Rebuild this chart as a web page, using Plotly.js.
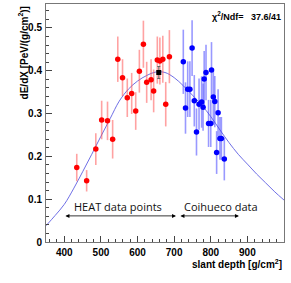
<!DOCTYPE html>
<html>
<head>
<meta charset="utf-8">
<script src="https://cdn.plot.ly/plotly-3.0.1.min.js"></script>
<style>html,body{margin:0;padding:0;background:#fff;}#chart{width:291px;height:283px;}</style>
</head>
<body>
<div id="chart"></div>
<script>
// HEAT data points (red)
var heatX   = [434, 461, 486, 502, 518, 532, 546, 559, 572, 584, 595, 605, 616, 625, 637, 644, 654, 661, 669, 677, 687];
var heatY   = [0.174, 0.143, 0.217, 0.285, 0.283, 0.240, 0.427, 0.384, 0.337, 0.347, 0.306, 0.399, 0.462, 0.373, 0.379, 0.353, 0.425, 0.423, 0.427, 0.322, 0.433];
var heatErr = [0.032, 0.025, 0.037, 0.045, 0.045, 0.045, 0.053, 0.043, 0.045, 0.048, 0.044, 0.050, 0.055, 0.048, 0.048, 0.050, 0.055, 0.055, 0.055, 0.052, 0.062];

// Coihueco data points (blue)
var coiX   = [725, 731, 737, 743, 749, 755, 761, 768, 775, 779, 782, 787, 794, 800, 802, 807, 811, 816, 820, 825, 829, 837];
var coiY   = [0.421, 0.313, 0.357, 0.357, 0.453, 0.330, 0.257, 0.322, 0.327, 0.315, 0.381, 0.396, 0.277, 0.277, 0.402, 0.339, 0.328, 0.209, 0.302, 0.242, 0.242, 0.194];
var coiErr = [0.075, 0.060, 0.065, 0.065, 0.065, 0.060, 0.055, 0.060, 0.060, 0.055, 0.065, 0.065, 0.055, 0.055, 0.065, 0.065, 0.060, 0.050, 0.055, 0.050, 0.050, 0.050];

// maximum point (black)
var maxX = [658];
var maxY = [0.396];
var maxErr = [0.014];

// fitted profile
var fitX = [350, 375, 400, 425, 450, 475, 500, 525, 550, 575, 600, 625, 650, 675, 700, 725, 750, 775, 800, 825, 850, 875, 900, 925, 950, 975, 1000];
var fitY = [0.038, 0.062, 0.088, 0.124, 0.164, 0.205, 0.247, 0.288, 0.329, 0.357, 0.376, 0.389, 0.397, 0.396, 0.384, 0.365, 0.343, 0.320, 0.293, 0.262, 0.232, 0.205, 0.182, 0.159, 0.138, 0.117, 0.098];

var xTicks = [400, 500, 600, 700, 800, 900];
var yTicks = [0, 0.1, 0.2, 0.3, 0.4, 0.5];
var yTickText = ['0', '0.1', '0.2', '0.3', '0.4', '0.5'];

var bold = {family: 'Liberation Sans, Arial, sans-serif', size: 10, color: '#000', weight: 'bold'};
var plain = {family: 'Open Sans, sans-serif', size: 11, color: '#111', weight: 'normal'};

var traces = [
  {x: fitX, y: fitY, mode: 'lines', line: {color: '#6f6fe6', width: 1, shape: 'spline'}, hoverinfo: 'skip', showlegend: false},
  {x: heatX, y: heatY, mode: 'markers', marker: {color: '#ff0000', size: 5.5},
   error_y: {type: 'data', array: heatErr, visible: true, color: 'rgba(255,70,70,0.5)', thickness: 1.6, width: 0}, showlegend: false},
  {x: coiX, y: coiY, mode: 'markers', marker: {color: '#0000ff', size: 5.5},
   error_y: {type: 'data', array: coiErr, visible: true, color: 'rgba(70,70,255,0.55)', thickness: 1.6, width: 0}, showlegend: false},
  {x: maxX, y: maxY, mode: 'markers', marker: {color: '#000', size: 5, symbol: 'square'},
   error_y: {type: 'data', array: maxErr, visible: true, color: '#666', thickness: 1, width: 1.5}, showlegend: false}
];

var layout = {
  width: 291, height: 283,
  margin: {l: 46, r: 7, t: 4, b: 41, pad: 0},
  paper_bgcolor: '#fff', plot_bgcolor: '#fff',
  font: bold,
  xaxis: {
    range: [350, 1000], tickvals: xTicks, ticks: 'inside', ticklen: 6, tickcolor: '#444',
    showgrid: false, zeroline: false, showline: true, linecolor: '#777', linewidth: 1, mirror: true,
    tickfont: bold, ticklabelstandoff: 1,
    minor: {dtick: 20, tick0: 0, ticks: 'inside', ticklen: 3, tickcolor: '#444', showgrid: false}
  },
  yaxis: {
    range: [0, 0.556], tickvals: yTicks, ticktext: yTickText, ticks: 'inside', ticklen: 6, tickcolor: '#444',
    showgrid: false, zeroline: false, showline: true, linecolor: '#777', linewidth: 1, mirror: true,
    tickfont: bold, ticklabelstandoff: 1,
    minor: {dtick: 0.02, tick0: 0, ticks: 'inside', ticklen: 3, tickcolor: '#444', showgrid: false}
  },
  annotations: [
    {xref: 'paper', yref: 'paper', x: 1, y: -0.092, xanchor: 'right', yanchor: 'middle', showarrow: false,
     text: 'slant depth [g/cm<sup>2</sup>]', font: bold},
    {xref: 'paper', yref: 'paper', x: -0.097, y: 1.0, xanchor: 'center', yanchor: 'top', textangle: -90, showarrow: false,
     text: 'dE/dX [PeV/(g/cm<sup>2</sup>)]', font: bold},
    {xref: 'paper', yref: 'paper', x: 0.995, y: 0.985, xanchor: 'right', yanchor: 'top', showarrow: false,
     text: '\u03c7<sup>2</sup>/Ndf=&nbsp;&nbsp;&nbsp;37.6/41', font: {family: 'Liberation Sans, Arial, sans-serif', size: 9, color: '#000', weight: 'bold'}},
    {x: 547, y: 0.084, xref: 'x', yref: 'y', showarrow: false, text: 'HEAT data points', font: plain},
    {x: 829, y: 0.084, xref: 'x', yref: 'y', showarrow: false, text: 'Coihueco data', font: plain},
    {x: 705, y: 0.061, ax: 399, ay: 0.061, xref: 'x', yref: 'y', axref: 'x', ayref: 'y', text: '',
     showarrow: true, arrowside: 'end+start', arrowhead: 2, arrowsize: 1, arrowwidth: 0.8, arrowcolor: '#000'},
    {x: 877, y: 0.061, ax: 713, ay: 0.061, xref: 'x', yref: 'y', axref: 'x', ayref: 'y', text: '',
     showarrow: true, arrowside: 'end+start', arrowhead: 2, arrowsize: 1, arrowwidth: 0.8, arrowcolor: '#000'}
  ]
};

Plotly.newPlot('chart', traces, layout, {displayModeBar: false, staticPlot: true});
</script>
</body>
</html>
